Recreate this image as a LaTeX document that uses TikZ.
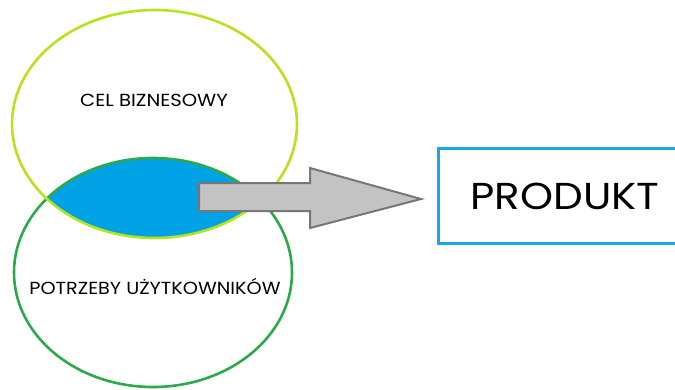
\documentclass[tikz,border=0pt]{standalone}
\usepackage{fontspec}
\setmainfont{Poppins}
\definecolor{limeline}{HTML}{B5E31E}
\definecolor{greenline}{HTML}{2BAA4A}
\definecolor{bluefill}{HTML}{00A2E6}
\definecolor{boxblue}{HTML}{1AA5E8}
\definecolor{arrowfill}{HTML}{C3C3C3}
\definecolor{arrowline}{HTML}{777777}
\tikzset{
  lbl/.style={inner sep=0pt, text=black},
  ring/.style={ellipse, draw, line width=2.6pt, inner sep=0pt},
}
\usetikzlibrary{shapes.geometric}
\begin{document}
\begin{tikzpicture}[x=1pt,y=1pt]
\useasboundingbox (0,0) rectangle (675,389);
\clip (0,0) rectangle (675,389);
% intersection fill
\begin{scope}
  \clip (154.5,265) ellipse [x radius=142.5, y radius=114];
  \fill[bluefill] (153,116.5) ellipse [x radius=139, y radius=114.5];
\end{scope}
\node[ring, draw=greenline, minimum width=278pt, minimum height=229pt] (user) at (153,116.5) {};
\node[ring, draw=limeline, minimum width=285pt, minimum height=228pt] (biz) at (154.5,265) {};
% arrow
\draw[line width=2pt, fill=arrowfill, draw=arrowline, line join=miter]
  (199,206) -- (310,206) -- (310,221) -- (421,190) -- (310,161) -- (310,178) -- (199,178) -- cycle;
\coordinate (tip) at (421,190);
% box
\node[draw=boxblue, line width=2.6pt, minimum width=260pt, minimum height=95pt, anchor=west, inner sep=0pt] (prod) at (437,193) {};
\node[lbl, xscale=1.12, font=\fontsize{37.5}{40}\selectfont] (prodtxt) at (565,193) {PRODUKT};
\node[lbl, xscale=1.12, font=\fontsize{17.5}{20}\selectfont] (biztxt) at (154,289) {CEL BIZNESOWY};
\node[lbl, xscale=1.1, font=\fontsize{17.5}{20}\selectfont] (usertxt) at (155,103) {POTRZEBY UŻYTKOWNIKÓW};
\end{tikzpicture}
\end{document}
